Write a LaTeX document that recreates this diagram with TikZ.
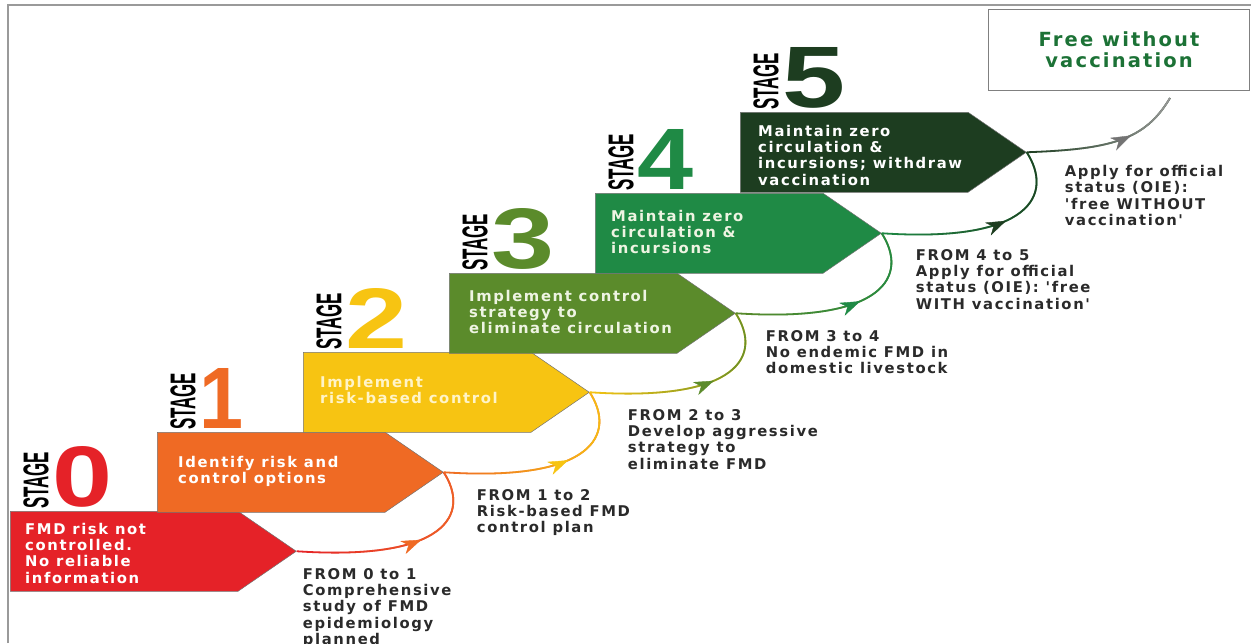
\documentclass[tikz,border=0pt]{standalone}
\usepackage{fontspec}
\setmainfont{DejaVu Sans}
\newfontfamily\lblfont[LetterSpace=11]{DejaVu Sans}
\newfontfamily\digfont{Liberation Sans}
\usetikzlibrary{shapes.symbols,arrows.meta,decorations.markings,calc,fadings}
\definecolor{c0}{HTML}{E52228}
\definecolor{c1}{HTML}{EF6A24}
\definecolor{c2}{HTML}{F7C412}
\definecolor{c3}{HTML}{5B8B2B}
\definecolor{c4}{HTML}{1F8A45}
\definecolor{c5}{HTML}{1D3D20}
\definecolor{txt2}{HTML}{FFF4C8}
\definecolor{txt3}{HTML}{EEF4E2}
\definecolor{labeltext}{HTML}{2A2A2A}
\definecolor{freegreen}{HTML}{1C7236}
\definecolor{framegray}{HTML}{9A9A9A}
\begin{document}
\begin{tikzpicture}[x=1pt,y=-1pt,
  stagebox/.style={signal, signal to=east, signal pointer angle=69,
    minimum width=286pt, minimum height=80pt, inner sep=0pt,
    draw=black!55, line width=0.5pt, anchor=north west},
  boxtext/.style={anchor=west, inner sep=0pt, align=left,
    font=\lblfont\bfseries\fontsize{14.8}{16.2}\selectfont},
  steplabel/.style={anchor=north west, inner sep=0pt, align=left, text=labeltext,
    font=\lblfont\bfseries\fontsize{14.8}{16.2}\selectfont},
  stageword/.style={rotate=90, anchor=south west, inner sep=0pt, text=black},
  stagedigit/.style={anchor=south west, inner sep=0pt},
  conn/.style={line width=1.8pt},
  headmark/.style 2 args={decorate, decoration={markings,
    mark=at position #1 with {\arrow[color=#2]{Stealth[length=20pt,width=14pt,inset=6pt]}}}}
]
\useasboundingbox (0,0) rectangle (1251,643);
% frame
\draw[framegray, line width=2pt] (8,643) -- (8,4.5) -- (1251,4.5);

% stage arrows
\node[stagebox, fill=c0] (s0) at (10,511) {};
\node[stagebox, fill=c1] (s1) at (157,432) {};
\node[stagebox, fill=c2] (s2) at (303,352) {};
\node[stagebox, fill=c3] (s3) at (449,273) {};
\node[stagebox, fill=c4] (s4) at (595,193) {};
\node[stagebox, fill=c5] (s5) at (740,112) {};

% texts in arrows
\node[boxtext, text=white] (b0) at ($(s0.west)+(15,2)$) {FMD risk not\\controlled.\\No reliable\\information};
\node[boxtext, text=white] (b1) at ($(s1.west)+(21,-1)$) {Identify risk and\\control options};
\node[boxtext, text=txt2] (b2) at ($(s2.west)+(17,-2)$) {Implement\\risk-based control};
\node[boxtext, text=txt3] (b3) at ($(s3.west)+(20,-1)$) {Implement control\\strategy to\\eliminate circulation};
\node[boxtext, text=txt3] (b4) at ($(s4.west)+(16,-1)$) {Maintain zero\\circulation \&\\incursions};
\node[boxtext, text=white] (b5) at ($(s5.west)+(18,3)$) {Maintain zero\\circulation \&\\incursions; withdraw\\vaccination};

% STAGE labels
\foreach \s/\d/\w/\c in {s0/0/60/c0, s1/1/44/c1, s2/2/62/c2, s3/3/63/c3, s4/4/56/c4, s5/5/63/c5}{
  \node[stageword] (w\s) at ($(\s.north west)+(39,-2)$) {\resizebox{57pt}{25pt}{\digfont\bfseries STAGE}};
  \node[stagedigit, text=\c] (d\s) at ($(\s.north west)+(42,-3)$) {\resizebox{\w pt}{60pt}{\digfont\bfseries \d}};
}

% connectors
\foreach \a/\b/\ca/\cb in {s0/s1/c0/c1, s1/s2/c1/c2, s2/s3/c2/c3, s3/s4/c3/c4, s4/s5/c4/c5}{
  \draw[conn, \ca] (\a.east) .. controls ($(\a.east)+(150,10)$) and ($(\b.east)+(27,42)$) .. (\b.east);
  \draw[conn, \cb, path fading=west] (\a.east) .. controls ($(\a.east)+(150,10)$) and ($(\b.east)+(27,42)$) .. (\b.east);
  \path[headmark={0.6}{\cb}] (\a.east) .. controls ($(\a.east)+(150,10)$) and ($(\b.east)+(27,42)$) .. (\b.east);
}
\coordinate (fe) at (1170,98);
\draw[conn, c5] (s5.east) .. controls ($(s5.east)+(85,-3)$) and ($(fe)+(-25,42)$) .. (fe);
\draw[conn, black!40, path fading=west] (s5.east) .. controls ($(s5.east)+(85,-3)$) and ($(fe)+(-25,42)$) .. (fe);
\path[headmark={0.66}{black!55}] (s5.east) .. controls ($(s5.east)+(85,-3)$) and ($(fe)+(-25,42)$) .. (fe);

% step labels
\node[steplabel] (l01) at ($(s0.east)+(6,17)$) {FROM 0 to 1\\Comprehensive\\study of FMD\\epidemiology\\planned};
\node[steplabel] (l12) at ($(s1.east)+(33,17)$) {FROM 1 to 2\\Risk-based FMD\\control plan};
\node[steplabel] (l23) at ($(s2.east)+(38,17)$) {FROM 2 to 3\\Develop aggressive\\strategy to\\eliminate FMD};
\node[steplabel] (l34) at ($(s3.east)+(30,17)$) {FROM 3 to 4\\No endemic FMD in\\domestic livestock};
\node[steplabel] (l45) at ($(s4.east)+(34,16)$) {FROM 4 to 5\\Apply for official\\status (OIE): 'free\\WITH vaccination'};
\node[steplabel] (l5f) at ($(s5.east)+(38,13)$) {Apply for official\\status (OIE):\\'free WITHOUT\\vaccination'};

% free box
\node[draw=black!50, line width=1.2pt, minimum width=261pt, minimum height=81pt, anchor=north west,
  inner sep=0pt, align=center, text=freegreen,
  font=\lblfont\bfseries\fontsize{19.5}{21}\selectfont] (free) at (988,9) {Free without\\vaccination};
\end{tikzpicture}
\end{document}
